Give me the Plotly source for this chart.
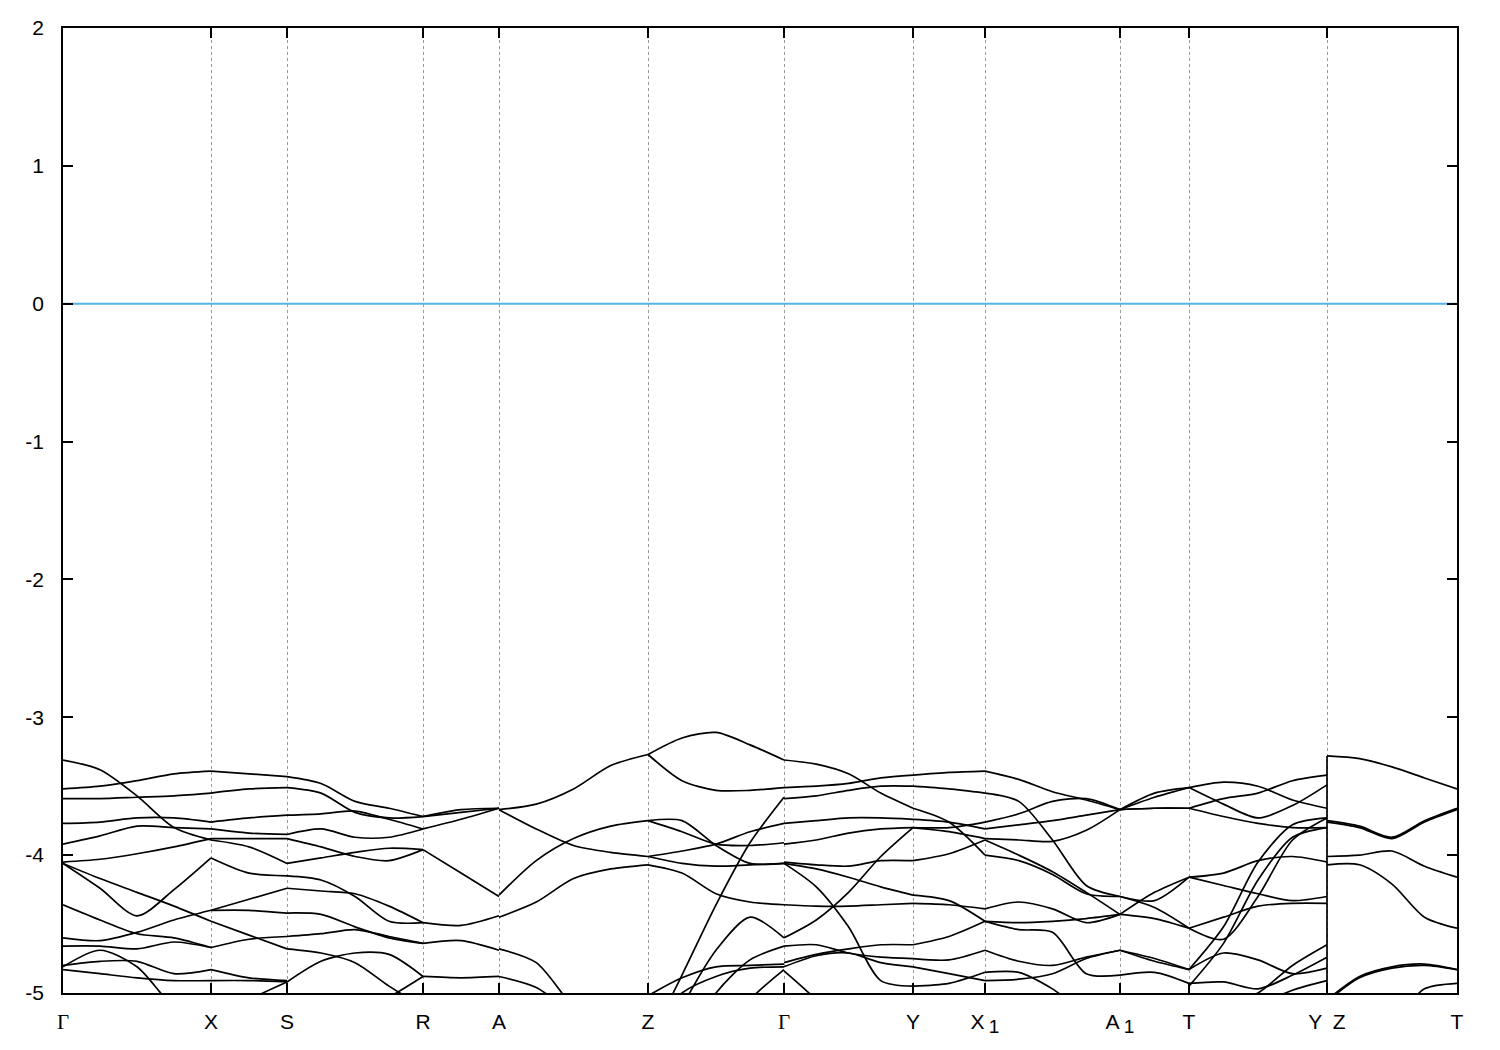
import plotly.graph_objects as go

# ---------------- data ----------------
GAMMA = "<span style=\"font-family:'Liberation Serif', serif\">Γ</span>"
SUB1 = "<sub><span style=\"font-size:19px\">1</span></sub>"
K_LABELS = [GAMMA, "X", "S", "R", "A", "Z", GAMMA, "Y", "X\u2009" + SUB1, "A\u2009" + SUB1, "T", "Y\u2002Z", "T"]
K_POS = [0.0, 1.48, 2.24, 3.60, 4.36, 5.85, 7.21, 8.50, 9.22, 10.57, 11.26, 12.64, 13.94]
Y_TICKS = [2, 1, 0, -1, -2, -3, -4, -5]
Y_TICK_TEXT = ["2", "1", "0", "-1", "-2", "-3", "-4", "-5"]
E_FERMI = 0.0

# energies (eV) along each path segment, one row per band, evenly spaced samples
SEG_G_X = [
    [-3.31, -3.38, -3.57, -3.80, -3.89],
    [-3.52, -3.50, -3.46, -3.41, -3.39],
    [-3.59, -3.59, -3.58, -3.57, -3.55],
    [-3.77, -3.76, -3.73, -3.73, -3.76],
    [-3.92, -3.86, -3.79, -3.80, -3.81],
    [-4.05, -4.03, -3.99, -3.94, -3.88],
    [-4.06, -4.24, -4.44, -4.25, -4.02],
    [-4.06, -4.17, -4.27, -4.37, -4.48],
    [-4.36, -4.47, -4.57, -4.60, -4.67],
    [-4.60, -4.62, -4.56, -4.47, -4.40],
    [-4.66, -4.66, -4.68, -4.63, -4.67],
    [-4.80, -4.77, -4.77, -4.86, -4.83],
    [-4.83, -4.86, -4.89, -4.91, -4.91],
    [-4.81, -4.69, -4.81, -5.10, -5.22],
]
SEG_X_S = [
    [-3.39, -3.41, -3.43],
    [-3.55, -3.52, -3.51],
    [-3.76, -3.73, -3.71],
    [-3.81, -3.84, -3.85],
    [-3.88, -3.88, -3.88],
    [-3.89, -3.94, -4.06],
    [-4.02, -4.13, -4.15],
    [-4.40, -4.32, -4.24],
    [-4.40, -4.40, -4.42],
    [-4.48, -4.58, -4.68],
    [-4.67, -4.61, -4.59],
    [-4.83, -4.89, -4.91],
    [-4.91, -4.91, -4.92],
    [-5.22, -5.05, -4.92],
]
SEG_S_R = [
    [-3.43, -3.48, -3.61, -3.66, -3.72],
    [-3.51, -3.55, -3.69, -3.73, -3.72],
    [-3.71, -3.70, -3.68, -3.74, -3.81],
    [-3.85, -3.81, -3.87, -3.87, -3.81],
    [-3.88, -3.94, -4.01, -4.04, -3.96],
    [-4.06, -4.02, -3.98, -3.95, -3.96],
    [-4.15, -4.18, -4.30, -4.48, -4.49],
    [-4.24, -4.26, -4.28, -4.37, -4.49],
    [-4.42, -4.43, -4.52, -4.60, -4.64],
    [-4.59, -4.57, -4.54, -4.59, -4.64],
    [-4.68, -4.71, -4.78, -4.95, -5.10],
    [-4.92, -4.77, -4.71, -4.72, -4.88],
    [-5.22, -5.22, -5.15, -5.03, -4.88],
]
SEG_R_A = [
    [-3.72, -3.67, -3.66],
    [-3.72, -3.69, -3.66],
    [-3.81, -3.74, -3.66],
    [-3.96, -4.13, -4.30],
    [-4.49, -4.51, -4.44],
    [-4.64, -4.62, -4.69],
    [-4.88, -4.89, -4.88],
]
SEG_A_Z = [
    [-3.67, -3.63, -3.52, -3.35, -3.27],
    [-3.67, -3.81, -3.93, -3.98, -4.01],
    [-4.29, -4.04, -3.88, -3.79, -3.75],
    [-4.45, -4.34, -4.17, -4.10, -4.07],
    [-4.68, -4.78, -5.10, -5.30, -5.30],
    [-4.88, -4.96, -5.15, -5.30, -5.30],
]
SEG_Z_G = [
    [-3.27, -3.15, -3.11, -3.20, -3.31],
    [-3.27, -3.46, -3.53, -3.53, -3.51],
    [-3.75, -3.75, -3.93, -4.06, -4.06],
    [-3.75, -3.83, -3.92, -3.93, -3.91],
    [-4.01, -3.97, -3.92, -3.83, -3.77],
    [-4.01, -4.06, -4.08, -4.07, -4.06],
    [-4.07, -4.13, -4.28, -4.34, -4.36],
    [-5.37, -4.87, -4.36, -3.91, -3.58],
    [-5.60, -5.10, -4.69, -4.45, -4.60],
    [-5.02, -4.89, -4.81, -4.80, -4.79],
    [-5.30, -5.00, -4.88, -4.82, -4.81],
    [-5.60, -5.40, -5.00, -4.76, -4.66],
    [-5.60, -5.60, -5.40, -5.05, -4.83],
]
SEG_G_Y = [
    [-3.31, -3.34, -3.41, -3.55, -3.66],
    [-3.51, -3.50, -3.48, -3.44, -3.42],
    [-3.59, -3.57, -3.53, -3.50, -3.50],
    [-3.77, -3.75, -3.73, -3.73, -3.74],
    [-3.92, -3.89, -3.84, -3.81, -3.80],
    [-4.05, -4.07, -4.08, -4.04, -4.04],
    [-4.06, -4.10, -4.16, -4.23, -4.29],
    [-4.06, -4.23, -4.52, -4.91, -4.95],
    [-4.60, -4.47, -4.27, -4.01, -3.80],
    [-4.36, -4.37, -4.37, -4.36, -4.35],
    [-4.66, -4.65, -4.71, -4.74, -4.75],
    [-4.78, -4.72, -4.68, -4.65, -4.65],
    [-4.81, -4.73, -4.71, -4.78, -4.81],
    [-4.84, -5.05, -5.30, -5.30, -5.30],
]
SEG_Y_X1 = [
    [-3.42, -3.40, -3.39],
    [-3.50, -3.52, -3.55],
    [-3.66, -3.76, -4.00],
    [-3.74, -3.76, -3.81],
    [-3.80, -3.80, -3.76],
    [-3.80, -3.83, -3.88],
    [-4.04, -3.99, -3.89],
    [-4.29, -4.33, -4.48],
    [-4.35, -4.36, -4.39],
    [-4.65, -4.59, -4.48],
    [-4.75, -4.76, -4.69],
    [-4.81, -4.86, -4.91],
    [-4.95, -4.93, -4.85],
]
SEG_X1_A1 = [
    [-3.39, -3.45, -3.54, -3.60, -3.67],
    [-3.55, -3.61, -3.89, -4.22, -4.30],
    [-3.76, -3.70, -3.61, -3.59, -3.67],
    [-3.81, -3.78, -3.75, -3.71, -3.67],
    [-3.88, -3.89, -3.90, -3.82, -3.67],
    [-3.89, -4.00, -4.12, -4.27, -4.43],
    [-4.00, -4.04, -4.14, -4.28, -4.30],
    [-4.39, -4.34, -4.39, -4.49, -4.43],
    [-4.48, -4.49, -4.48, -4.46, -4.43],
    [-4.48, -4.54, -4.56, -4.86, -4.87],
    [-4.69, -4.77, -4.80, -4.74, -4.69],
    [-4.85, -4.85, -4.97, -5.15, -5.22],
    [-4.91, -4.90, -4.86, -4.75, -4.69],
]
SEG_A1_T = [
    [-3.67, -3.55, -3.51],
    [-3.67, -3.58, -3.51],
    [-3.67, -3.66, -3.66],
    [-3.67, -3.66, -3.66],
    [-4.30, -4.33, -4.16],
    [-4.30, -4.38, -4.53],
    [-4.43, -4.27, -4.16],
    [-4.43, -4.46, -4.53],
    [-4.69, -4.77, -4.83],
    [-4.69, -4.75, -4.83],
    [-4.87, -4.85, -4.93],
]
SEG_T_Y = [
    [-3.51, -3.47, -3.50, -3.60, -3.66],
    [-3.51, -3.63, -3.73, -3.64, -3.49],
    [-3.66, -3.59, -3.55, -3.46, -3.42],
    [-3.66, -3.72, -3.77, -3.80, -3.80],
    [-4.83, -4.52, -4.05, -3.78, -3.73],
    [-4.95, -4.64, -4.18, -3.87, -3.80],
    [-4.53, -4.61, -4.30, -3.89, -3.73],
    [-4.16, -4.13, -4.04, -4.01, -4.05],
    [-4.16, -4.22, -4.28, -4.33, -4.30],
    [-4.53, -4.45, -4.37, -4.35, -4.35],
    [-4.83, -4.71, -4.76, -4.86, -4.82],
    [-4.93, -4.92, -4.97, -4.87, -4.74],
    [-5.20, -5.10, -5.00, -4.80, -4.65],
    [-5.30, -5.30, -5.10, -4.98, -4.91],
]
SEG_Z_T = [
    [-3.28, -3.30, -3.36, -3.44, -3.52],
    [-3.75, -3.79, -3.87, -3.75, -3.66],
    [-3.76, -3.80, -3.88, -3.76, -3.67],
    [-4.01, -4.00, -3.97, -4.08, -4.16],
    [-4.07, -4.07, -4.21, -4.45, -4.53],
    [-5.05, -4.88, -4.81, -4.79, -4.83],
    [-5.06, -4.89, -4.82, -4.80, -4.83],
    [-5.30, -5.30, -5.20, -4.97, -4.93],
]

# (start index, end index in K_POS, band data)
SEGMENTS = [
    (0, 1, SEG_G_X), (1, 2, SEG_X_S), (2, 3, SEG_S_R), (3, 4, SEG_R_A),
    (4, 5, SEG_A_Z), (5, 6, SEG_Z_G), (6, 7, SEG_G_Y), (7, 8, SEG_Y_X1),
    (8, 9, SEG_X1_A1), (9, 10, SEG_A1_T), (10, 11, SEG_T_Y), (11, 12, SEG_Z_T),
]

# ---------------- figure ----------------
fig = go.Figure()

for i0, i1, rows in SEGMENTS:
    k0, k1 = K_POS[i0], K_POS[i1]
    xs, ys = [], []
    for row in rows:
        n = len(row)
        for j, e in enumerate(row):
            xs.append(k0 + (k1 - k0) * j / (n - 1))
            ys.append(e)
        xs.append(None)
        ys.append(None)
    fig.add_trace(go.Scatter(
        x=xs, y=ys, mode="lines",
        line=dict(color="black", width=1.7, shape="spline", smoothing=0.8),
        hoverinfo="skip", showlegend=False,
    ))

# discontinuity Y|Z: bands jump from their Y value to their Z value
ends = [r[-1] for r in SEG_T_Y] + [r[0] for r in SEG_Z_T]
kj = K_POS[11]
fig.add_trace(go.Scatter(
    x=[kj, kj], y=[max(ends), min(ends)], mode="lines",
    line=dict(color="black", width=1.7), hoverinfo="skip", showlegend=False,
))

# Fermi level
fig.add_trace(go.Scatter(
    x=[K_POS[0], K_POS[-1]], y=[E_FERMI, E_FERMI], mode="lines",
    line=dict(color="#56b4e9", width=2), hoverinfo="skip", showlegend=False,
))

font = dict(family="Liberation Sans, Arial, sans-serif", size=21, color="black")

fig.update_layout(
    width=1500, height=1050,
    margin=dict(l=63, r=43, t=28, b=57),
    paper_bgcolor="white", plot_bgcolor="white",
    font=font, showlegend=False,
    xaxis=dict(
        range=[K_POS[0], K_POS[-1]],
        tickmode="array", tickvals=K_POS, ticktext=K_LABELS,
        ticks="inside", ticklen=10, tickwidth=1.5, tickcolor="black",
        showline=True, linecolor="black", linewidth=1.5, mirror="ticks",
        showgrid=True, gridcolor="#9a9a9a", gridwidth=1, griddash="3px,3px",
        zeroline=False, tickfont=font, ticklabelstandoff=9,
    ),
    yaxis=dict(
        range=[-5, 2],
        tickmode="array", tickvals=Y_TICKS, ticktext=Y_TICK_TEXT,
        ticks="inside", ticklen=10, tickwidth=1.5, tickcolor="black",
        showline=True, linecolor="black", linewidth=1.5, mirror="ticks",
        showgrid=False, zeroline=False, tickfont=font, ticklabelstandoff=13,
    ),
)

fig.write_html("out.html", config={"displayModeBar": False},
               post_script="document.body.style.margin='0px';")
